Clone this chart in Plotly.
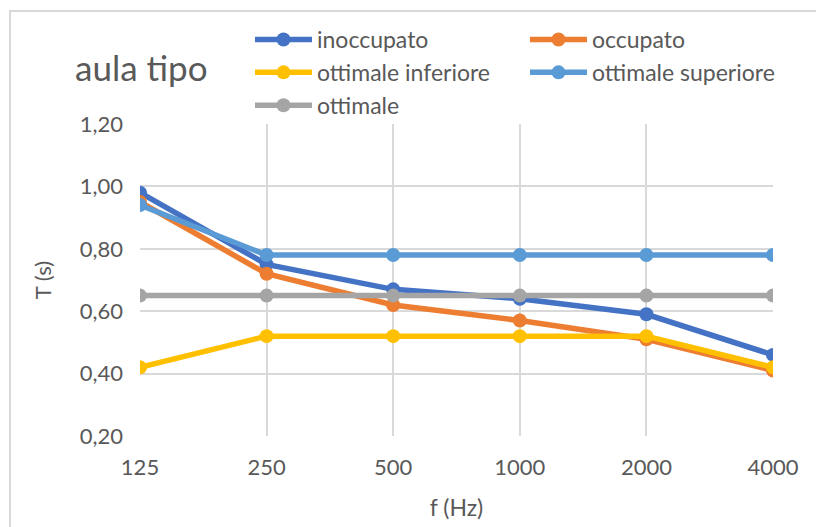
import plotly.graph_objects as go

freqs = ["125", "250", "500", "1000", "2000", "4000"]
inoccupato = [0.98, 0.75, 0.67, 0.64, 0.59, 0.46]
occupato = [0.95, 0.72, 0.62, 0.57, 0.51, 0.41]
ottimale_inferiore = [0.42, 0.52, 0.52, 0.52, 0.52, 0.42]
ottimale_superiore = [0.94, 0.78, 0.78, 0.78, 0.78, 0.78]
ottimale = [0.65, 0.65, 0.65, 0.65, 0.65, 0.65]
y_ticks = [0.2, 0.4, 0.6, 0.8, 1.0, 1.2]

series = [
    ("inoccupato", inoccupato, "#4472C4", "legend"),
    ("occupato", occupato, "#ED7D31", "legend2"),
    ("ottimale inferiore", ottimale_inferiore, "#FFC000", "legend"),
    ("ottimale superiore", ottimale_superiore, "#5B9BD5", "legend2"),
    ("ottimale", ottimale, "#A5A5A5", "legend"),
]

FONT = "Lato"
TXT = "#595959"

fig = go.Figure()
for name, vals, col, lg in series:
    fig.add_trace(go.Scatter(
        x=freqs, y=vals, name=name, mode="lines+markers",
        line=dict(color=col, width=5.5),
        marker=dict(color=col, size=14),
        legend=lg,
    ))

W, H = 816, 527
L, R, T, B = 140, 43, 124, 91
pw, ph = W - L - R, H - T - B

def px(x):
    return (x - L) / pw

def py(y):
    return (H - B - y) / ph

legend_common = dict(
    bgcolor="rgba(0,0,0,0)",
    font=dict(family=FONT, size=23, color=TXT),
    orientation="v",
    xanchor="left",
    yanchor="top",
    tracegroupgap=0,
    itemwidth=57,
)

fig.update_layout(
    width=W, height=H,
    margin=dict(l=L, r=R, t=T, b=B),
    paper_bgcolor="white",
    plot_bgcolor="white",
    separators=",.",
    font=dict(family=FONT, color=TXT),
    legend=dict(x=px(250), y=py(18), **legend_common),
    legend2=dict(x=px(525), y=py(18), **legend_common),
    xaxis=dict(
        type="category",
        range=[0, 5],
        showgrid=True, gridcolor="#D9D9D9", gridwidth=2,
        zeroline=False, showline=False,
        ticks="", tickfont=dict(family=FONT, size=22, color=TXT),
        ticklabelstandoff=16,
        title=dict(text="f (Hz)", font=dict(family=FONT, size=23, color=TXT), standoff=20),
    ),
    yaxis=dict(
        range=[0.2, 1.2],
        tickvals=y_ticks,
        tickformat=".2f",
        showgrid=True, gridcolor="#D9D9D9", gridwidth=2,
        zeroline=False, showline=False,
        ticks="", tickfont=dict(family=FONT, size=22, color=TXT),
        ticklabelstandoff=16,
        title=dict(text="T (s)", font=dict(family=FONT, size=22, color=TXT), standoff=22),
    ),
    annotations=[dict(
        text="aula tipo", xref="paper", yref="paper",
        x=px(73), y=py(67), xanchor="left", yanchor="middle",
        showarrow=False, font=dict(family=FONT, size=35, color=TXT),
    )],
    shapes=[dict(
        type="rect", xref="paper", yref="paper",
        x0=px(10), x1=px(840), y0=py(560), y1=py(11),
        line=dict(color="#D9D9D9", width=2), fillcolor="rgba(0,0,0,0)",
        layer="below",
    )],
)

fig.write_html("out.html")
